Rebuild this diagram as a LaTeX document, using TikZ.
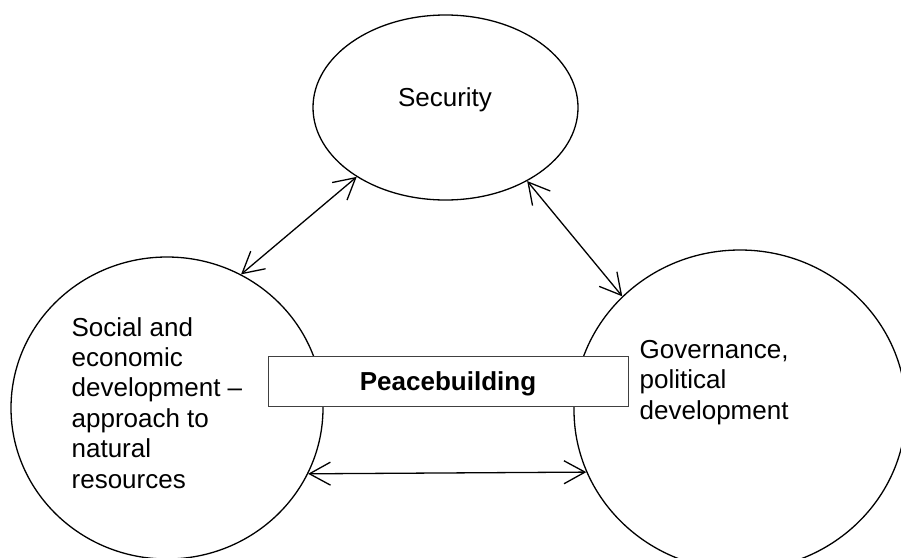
\documentclass[tikz,border=0pt]{standalone}
\usepackage{fontspec}
\setmainfont{Liberation Sans}
\usetikzlibrary{shapes.geometric,arrows.meta}

\begin{document}
\begin{tikzpicture}[x=1pt, y=-1pt, line width=1.3pt,
	every node/.style={font=\fontsize{26}{30.4}\selectfont},
	blob/.style={draw, ellipse, inner sep=0pt},
	>={Straight Barb[length=21pt,width=23pt]}]
	\clip (0,0) rectangle (901,557);
	% the three circles
	\node[blob, minimum width=265, minimum height=185] (sec) at (445.5,107.5) {};
	\node[blob, minimum width=312, minimum height=302] (soc) at (167,408) {};
	\node[blob, minimum width=332, minimum height=320] (gov) at (740,410) {};
	\node[anchor=base] (sectext) at (445,106) {Security};
	% multi-line text sits on its last baseline
	\node[anchor=base west, align=left, inner sep=0pt] (soctext) at (71,488) {Social and\\economic\\development --\\approach to\\natural\\resources};
	\node[anchor=base west, align=left, inner sep=0pt] (govtext) at (639,419) {Governance,\\political\\development};
	% box in the middle
	\node[draw=black!75, line width=0.9pt, fill=white, minimum width=360, minimum height=50, inner sep=0pt, text depth=0pt, font=\fontsize{26}{30}\selectfont\bfseries] (peace) at (448,381) {Peacebuilding};
	\draw[<->] (soc.61.5) -- (sec.218);
	\draw[<->] (sec.318.7) -- (gov.136);
	\draw[<->] (soc.335) -- (gov.202.6);
\end{tikzpicture}
\end{document}
